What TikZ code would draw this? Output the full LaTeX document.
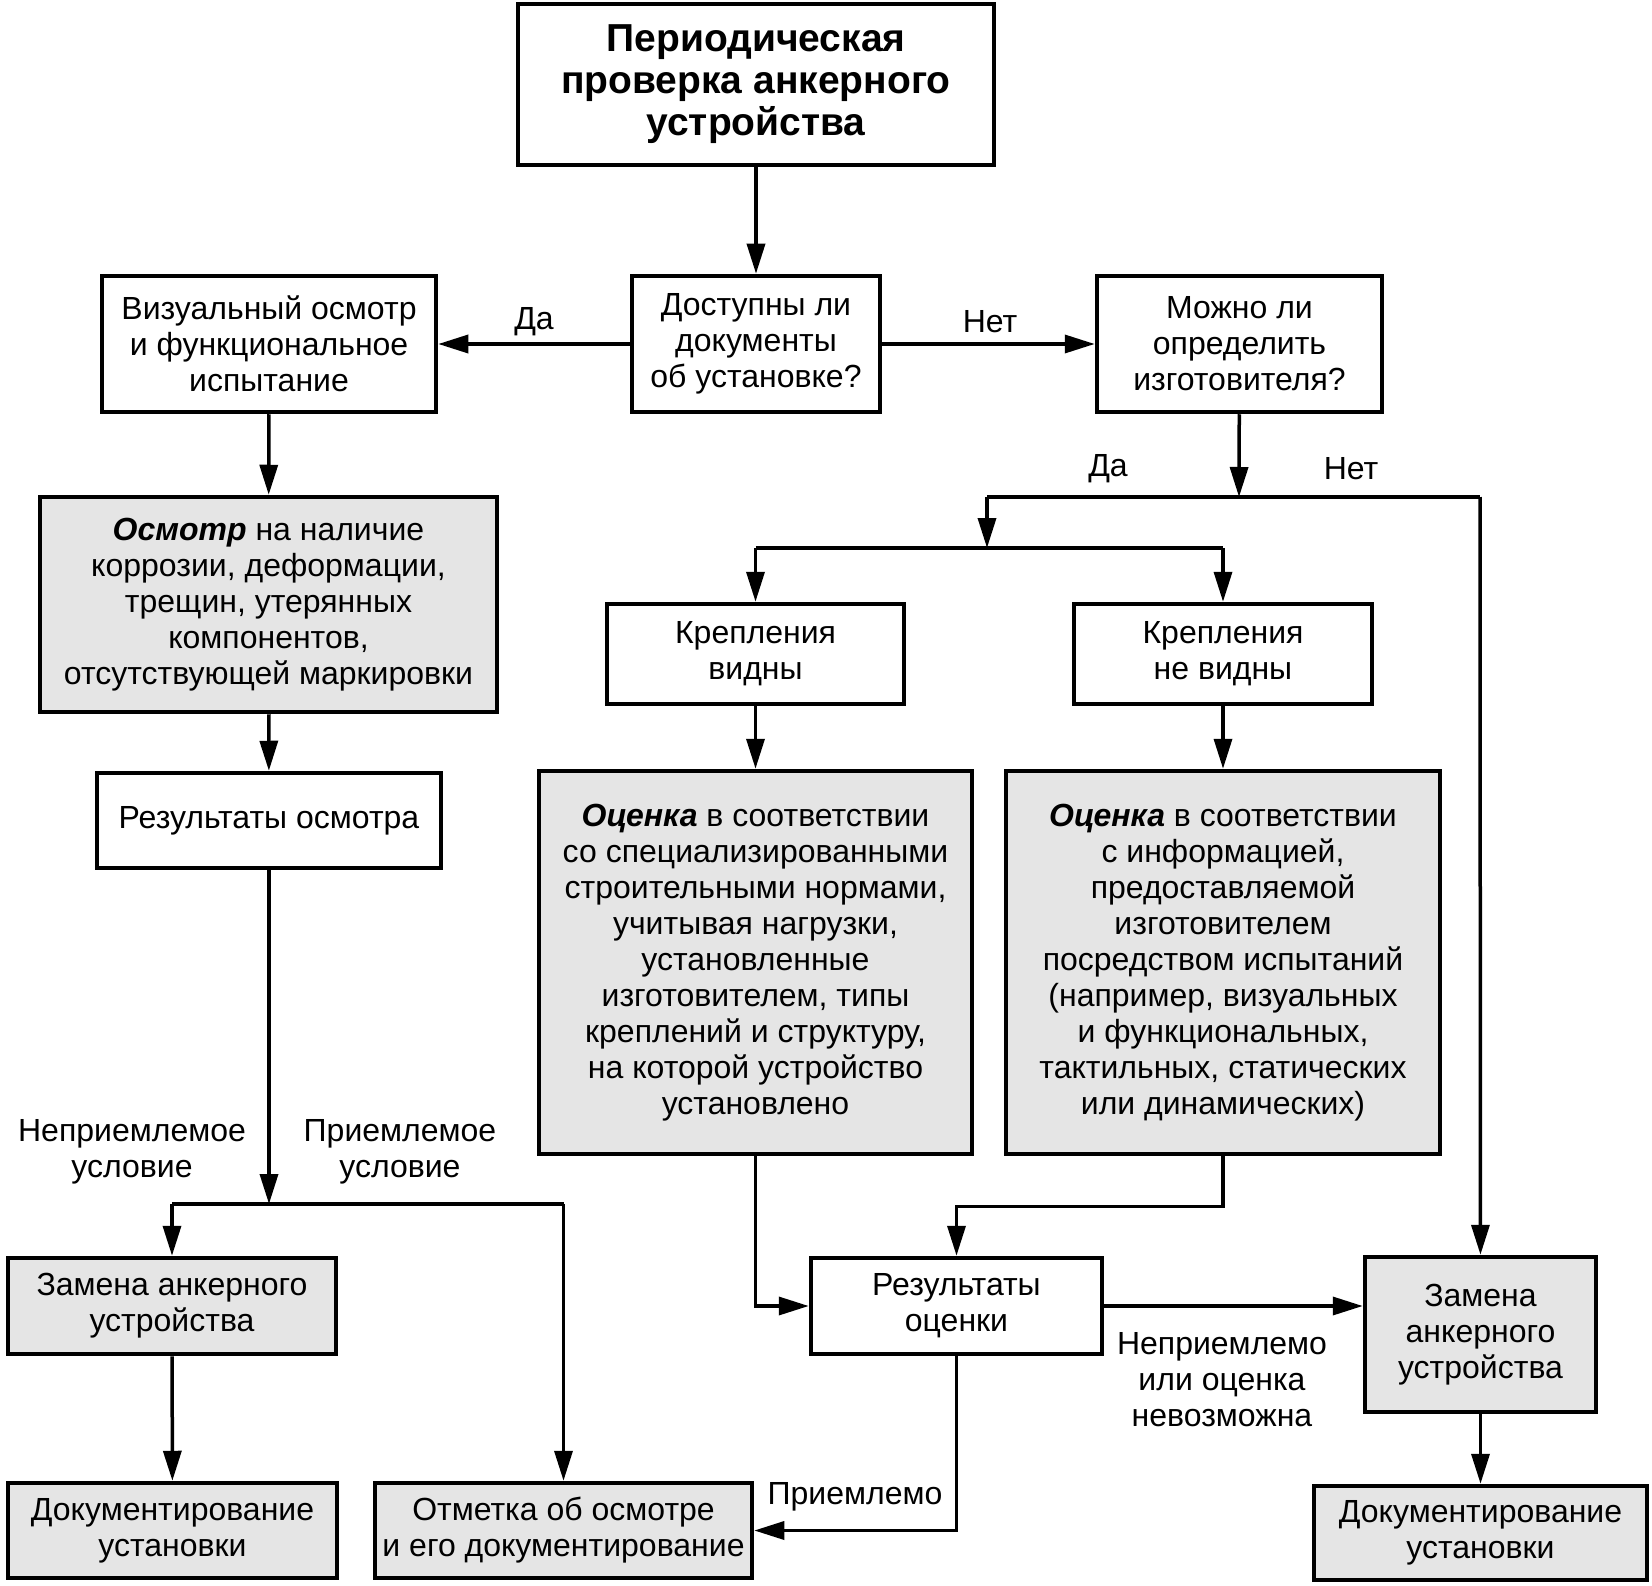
\documentclass[tikz,border=0pt]{standalone}
\usepackage{fontspec}
\setmainfont{Liberation Sans}
\usetikzlibrary{positioning, arrows.meta}
\newcommand{\fsz}{\fontsize{32}{36}\selectfont}
\tikzset{
  block/.style={draw, line width=4.5pt, align=center, inner sep=0pt, font=\fsz},
  greyblock/.style={block, fill=black!10},
  lbl/.style={align=center, font=\fsz},
  link/.style={line width=3.5pt},
  arr/.style={link, -{Triangle[length=30pt,width=18pt]}}
}

\begin{document}
\begin{tikzpicture}[x=1pt, y=-1pt]
        \useasboundingbox (0,0) rectangle (1652,1586);

        % START
        \node[block, minimum width=476, minimum height=161,
              font=\fontsize{39}{42}\selectfont\bfseries] (check) at (756,84.5)
              {Периодическая\\проверка анкерного\\устройства};

        % questions
        \node[block, minimum width=248, minimum height=136] (docs) at (756,344)
              {Доступны ли\\документы\\об установке?};
        \node[block, minimum width=334, minimum height=136] (visual) at (269,344)
              {Визуальный осмотр\\и функциональное\\испытание};
        \node[block, minimum width=285, minimum height=136] (maker) at (1239.5,344)
              {Можно ли\\определить\\изготовителя?};

        % left branch
        \node[greyblock, minimum width=457, minimum height=215] (inspect) at (268.5,604.5)
              {\textbf{\textit{Осмотр}} на наличие\\коррозии, деформации,\\трещин, утерянных\\компонентов,\\отсутствующей маркировки};
        \node[block, minimum width=344, minimum height=95] (inspres) at (269,820.5)
              {Результаты осмотра};
        \node[greyblock, minimum width=328, minimum height=96] (replL) at (172,1306)
              {Замена анкерного\\устройства};
        \node[greyblock, minimum width=329, minimum height=95] (docL) at (172.5,1530.5)
              {Документирование\\установки};
        \node[greyblock, minimum width=377, minimum height=95] (mark) at (563.5,1530.5)
              {Отметка об осмотре\\и его документирование};

        % right branch
        \node[block, minimum width=297, minimum height=100] (vis) at (755.5,654)
              {Крепления\\видны};
        \node[block, minimum width=298, minimum height=100] (invis) at (1223,654)
              {Крепления\\не видны};
        \node[greyblock, minimum width=433, minimum height=383] (evalA) at (755.5,962.5)
              {\textbf{\textit{Оценка}} в соответствии\\со специализированными\\строительными нормами,\\учитывая нагрузки,\\установленные\\изготовителем, типы\\креплений и структуру,\\на которой устройство\\установлено};
        \node[greyblock, minimum width=434, minimum height=383] (evalB) at (1223,962.5)
              {\textbf{\textit{Оценка}} в соответствии\\с информацией,\\предоставляемой\\изготовителем\\посредством испытаний\\(например, визуальных\\и функциональных,\\тактильных, статических\\или динамических)};
        \node[block, minimum width=291, minimum height=96] (evalres) at (956.5,1306)
              {Результаты\\оценки};
        \node[greyblock, minimum width=231, minimum height=155] (replR) at (1480.5,1334.5)
              {Замена\\анкерного\\устройства};
        \node[greyblock, minimum width=333, minimum height=94] (docR) at (1480.5,1533)
              {Документирование\\установки};

        % junctions
        \coordinate (makerjoin) at (1239,497);
        \coordinate (yesjoin) at (987,497);
        \coordinate (nojoin) at (1480,497);
        \coordinate (fixjoin) at (987,548);
        \coordinate (condjoin) at (269,1204);

        % labels
        \node[lbl] (yesA) at (534,322) {Да};
        \node[lbl] (noA) at (990,322) {Нет};
        \node[lbl] (yesB) at (1108,469) {Да};
        \node[lbl] (noB) at (1351,469) {Нет};
        \node[lbl] (badcond) at (132,1152) {Неприемлемое\\условие};
        \node[lbl] (goodcond) at (400,1152) {Приемлемое\\условие};
        \node[lbl] (badeval) at (1222,1380) {Неприемлемо\\или оценка\\невозможна};
        \node[lbl] (goodeval) at (855,1497) {Приемлемо};

        \draw[arr] (check) -- (docs);
        \draw[arr] (docs) -- (visual);
        \draw[arr] (docs) -- (maker);
        \draw[arr] (visual) -- (inspect);
        \draw[arr] (inspect) -- (inspres);

        \draw[arr] (inspres) -- (condjoin);
        \draw[link] (replL.north |- condjoin) -- (mark.north |- condjoin);
        \draw[arr] (replL.north |- condjoin) -- (replL);
        \draw[arr] (mark.north |- condjoin) -- (mark);
        \draw[arr] (replL) -- (docL);

        \draw[arr] (maker) -- (makerjoin);
        \draw[link] (yesjoin) -- (nojoin);
        \draw[arr] (yesjoin) -- (fixjoin);
        \draw[link] (vis.north |- fixjoin) -- (invis.north |- fixjoin);
        \draw[arr] (vis.north |- fixjoin) -- (vis);
        \draw[arr] (invis.north |- fixjoin) -- (invis);
        \draw[arr] (nojoin) -- (replR);
        \draw[arr] (vis) -- (evalA);
        \draw[arr] (invis) -- (evalB);

        \draw[arr] (evalA.south) |- (evalres.west);
        \draw[arr] (evalB.south) -- ++(0,50) -| (evalres.north);
        \draw[arr] (evalres.east) -- (evalres.east -| replR.west);
        \draw[arr] (evalres.south) |- (mark.east);
        \draw[arr] (replR) -- (docR);
\end{tikzpicture}
\end{document}
